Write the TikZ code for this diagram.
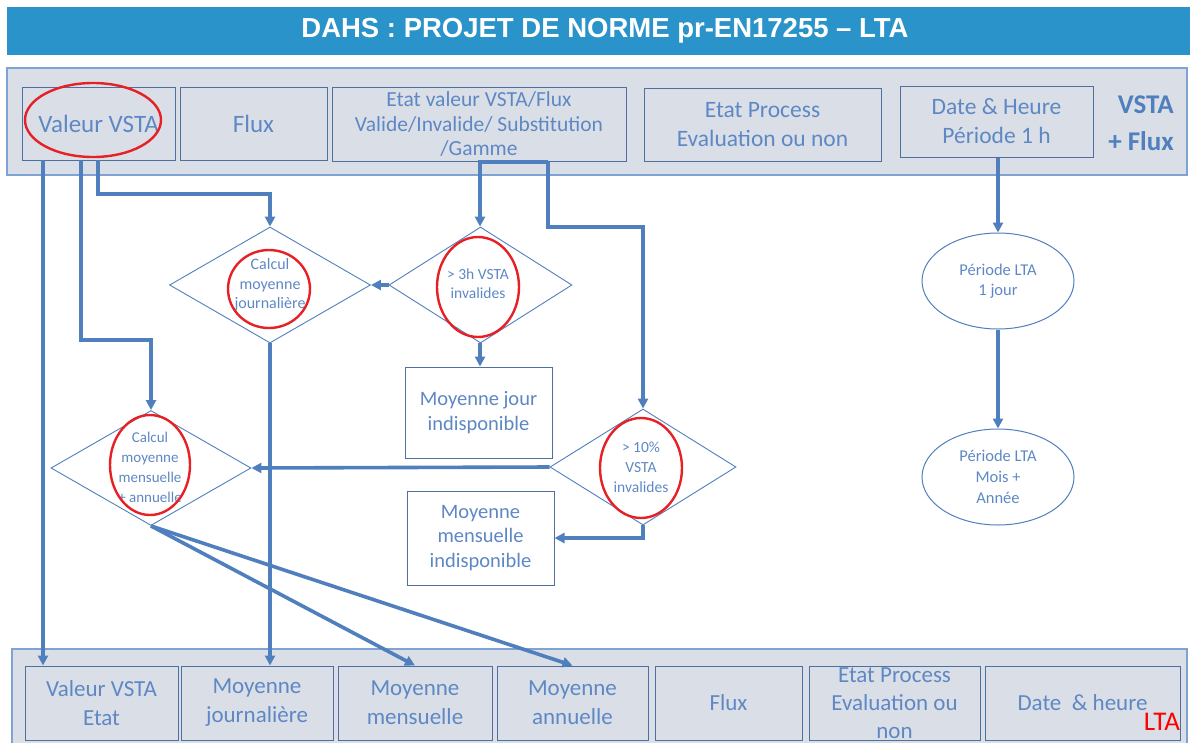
\documentclass[tikz,border=0pt]{standalone}
\usepackage{fontspec}
\setmainfont{Carlito}
\newfontfamily\titlefont{Liberation Sans}
\usetikzlibrary{arrows.meta,shapes.geometric,calc}
\definecolor{titleblue}{HTML}{2A93C9}
\definecolor{bandfill}{HTML}{DADFE7}
\definecolor{bandline}{HTML}{7FA3D2}
\definecolor{boxline}{HTML}{4E70A0}
\definecolor{txtblue}{HTML}{5E88C4}
\definecolor{lineblue}{HTML}{4F7FBC}
\definecolor{redring}{HTML}{E62024}
\tikzset{
  band/.style={draw=bandline,fill=bandfill,line width=1.2pt},
  topbox/.style={draw=boxline,fill=bandfill,line width=1pt,rectangle,inner sep=0pt,align=center,text=txtblue},
  flowbox/.style={draw=boxline,fill=white,line width=1pt,rectangle,inner sep=0pt,align=center,text=txtblue},
  decision/.style={draw=lineblue,line width=0.9pt,diamond,inner sep=0pt,aspect=1.74},
  dtext/.style={align=center,text=txtblue,inner sep=0pt},
  period/.style={draw=lineblue,line width=1pt,ellipse,inner sep=0pt,align=center,text=txtblue},
  ring/.style={draw=redring,line width=2.4pt,ellipse,inner sep=0pt},
  conn/.style={draw=lineblue,line width=3.6pt,-{Triangle[length=10pt,width=10pt]}},
  f23/.style={font=\fontsize{23}{29}\selectfont},
  f25/.style={font=\fontsize{25}{29}\selectfont},
}
\begin{document}
\begin{tikzpicture}[x=1pt,y=-1pt]
\useasboundingbox (0,0) rectangle (1193,742);
% title
\node[fill=titleblue,minimum width=1183,minimum height=48,inner sep=0pt,anchor=north west] (title) at (7,7) {};
\node[text=white,font=\titlefont\bfseries\fontsize{27.5}{30}\selectfont] (titletext) at (605,31) {DAHS : PROJET DE NORME pr-EN17255 – LTA};
% top band
\path[band] (7,68) rectangle (1187,175);
\node[topbox,f25,minimum width=153,minimum height=73] (t1) at (98.5,123.5) {Valeur VSTA};
\node[topbox,f25,minimum width=147,minimum height=73] (t2) at (253.5,123.5) {Flux};
\node[topbox,font=\fontsize{21.5}{24.5}\selectfont,minimum width=294,minimum height=74] (t3) at (479,124) {Etat valeur VSTA/Flux\\Valide/Invalide/ Substitution\\/Gamme};
\node[topbox,font=\fontsize{23.5}{29}\selectfont,minimum width=237,minimum height=73] (t4) at (762.5,124.5) {Etat Process\\Evaluation ou non};
\node[topbox,font=\fontsize{23.5}{29}\selectfont,minimum width=193,minimum height=71] (t5) at (996.5,121.5) {Date \& Heure\\Période 1 h};
\node[text=lineblue,font=\bfseries\fontsize{27}{37}\selectfont,align=right,inner sep=0pt] (vsta) at (1141,123) {VSTA\\+ Flux};
\node[ring,minimum width=136,minimum height=74] (r0) at (93,120) {};
% bottom band
\path[band] (12,649) rectangle (1187,750);
\node[topbox,f23,minimum width=153,minimum height=74] (b1) at (101.5,703) {Valeur VSTA\\Etat};
\node[topbox,f23,minimum width=152,minimum height=74] (b2) at (257,703) {Moyenne\\journalière};
\node[topbox,f23,minimum width=154,minimum height=74] (b3) at (415,703) {Moyenne\\mensuelle};
\node[topbox,f23,minimum width=151,minimum height=74] (b4) at (572.5,703) {Moyenne\\annuelle};
\node[topbox,f23,minimum width=147,minimum height=74] (b5) at (728.5,703) {Flux};
\node[topbox,minimum width=171,minimum height=74] (b6) at (894.5,703) {};
\node[dtext,font=\fontsize{23}{28}\selectfont] (b6t) at (894.5,703) {Etat Process\\Evaluation ou\\non};
\node[topbox,f23,minimum width=195,minimum height=74] (b7) at (1082.5,703) {Date\ \ \& heure};
\node[text=red,font=\fontsize{27}{30}\selectfont,inner sep=0pt] (lta) at (1162,722) {LTA};
% decisions
\node[decision,minimum width=201,minimum height=116] (d1) at (270,285) {};
\node[dtext,font=\fontsize{16}{19.5}\selectfont] (d1t) at (270,285) {Calcul\\moyenne\\journalière};
\node[ring,minimum width=82,minimum height=78] (r1) at (269,289) {};
\node[decision,minimum width=183,minimum height=116] (d2) at (480.5,285) {};
\node[dtext,font=\fontsize{15.5}{19}\selectfont] (d2t) at (478,284) {> 3h VSTA\\invalides};
\node[ring,minimum width=82,minimum height=100] (r2) at (478,287) {};
\node[decision,minimum width=200,minimum height=115] (d3) at (151,468) {};
\node[dtext,font=\fontsize{15}{20}\selectfont] (d3t) at (150,467) {Calcul\\moyenne\\mensuelle\\+ annuelle};
\node[ring,minimum width=80,minimum height=100] (r3) at (150,465) {};
\node[decision,minimum width=186,minimum height=116] (d4) at (643,467) {};
\node[dtext,font=\fontsize{15.5}{20}\selectfont] (d4t) at (641,467) {> 10\%\\VSTA\\invalides};
\node[ring,minimum width=82,minimum height=100] (r4) at (641,468) {};
% result boxes
\node[flowbox,font=\fontsize{20.5}{25}\selectfont,minimum width=147,minimum height=91] (m1) at (478.5,412.5) {Moyenne jour\\indisponible};
\node[flowbox,font=\fontsize{20.5}{24.5}\selectfont,minimum width=147,minimum height=94] (m2) at (480.5,538) {Moyenne\\mensuelle\\indisponible};
% LTA periods
\node[period,font=\fontsize{16.5}{20}\selectfont,minimum width=152,minimum height=96] (e1) at (998,281) {Période LTA\\1 jour};
\node[period,font=\fontsize{16.5}{21}\selectfont,minimum width=152,minimum height=96] (e2) at (998,477) {Période LTA\\Mois +\\Année};
% connector anchors
\coordinate (s1) at (43,160);
\coordinate (s2) at (81,160);
\coordinate (k2) at (81,340);
\coordinate (s3) at (98,160);
\coordinate (k3) at (98,194);
\coordinate (s4) at (548,162);
\coordinate (k4) at (480,162);
\coordinate (k5) at (548,227);
% connectors
\draw[conn] (s1) -- (s1 |- b1.north);
\draw[conn] (s2) -- (k2) -| (d3.north);
\draw[conn] (s3) -- (k3) -| (d1.north);
\draw[conn] (s4) -- (k4) -- (k4 |- d2.north);
\draw[conn] (s4) -- (k5) -| (d4.north);
\draw[conn] (d2.west) -- (d1.east);
\draw[conn] (k4 |- d2.south) -- (k4 |- m1.north);
\draw[conn] (d4.west) -- (d3.east);
\draw[conn] (d4.south) |- (m2.east);
\draw[conn] (d1.south) -- (d1.south |- b2.north);
\draw[conn] (d3.south) -- (b3.north);
\draw[conn] (d3.south) -- (b4.north);
\draw[conn] (e1.north |- t5.south) -- (e1.north);
\draw[conn] (e1.south) -- (e2.north);
\end{tikzpicture}
\end{document}
